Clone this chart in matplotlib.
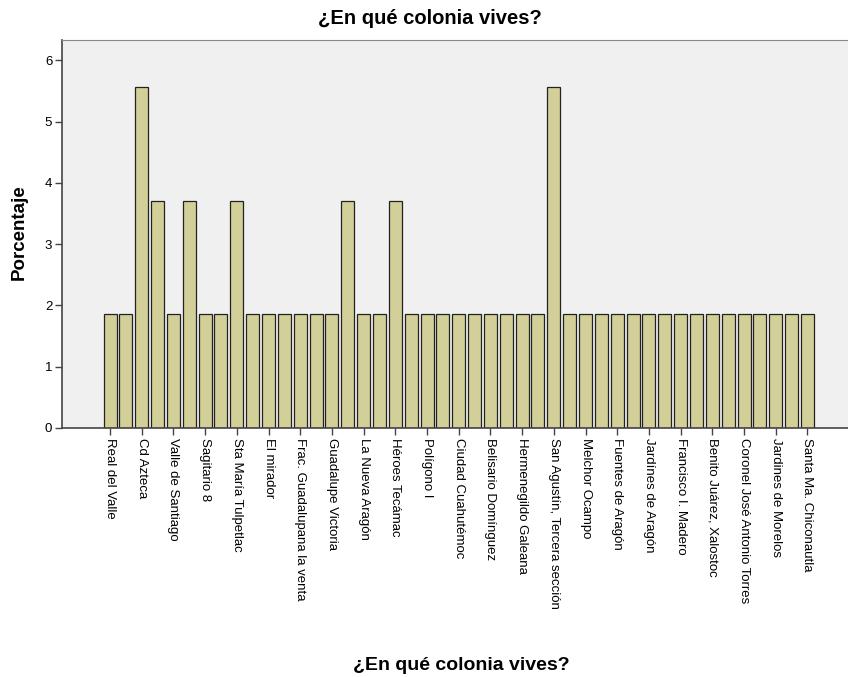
import matplotlib
matplotlib.use('Agg')
import matplotlib.pyplot as plt
import numpy as np

plt.rcParams['font.family'] = ['Liberation Sans', 'DejaVu Sans']

# counts per colonia (54 responses in total), 45 bars
conteos = [1, 1, 3, 2, 1, 2, 1, 1, 2, 1, 1, 1, 1, 1, 1, 2, 1, 1, 2, 1, 1, 1, 1,
           1, 1, 1, 1, 1, 3, 1, 1, 1, 1, 1, 1, 1, 1, 1, 1, 1, 1, 1, 1, 1, 1]
total = 54

# only every other bar is labelled in the original
etiquetas = ["Real del Valle", "Cd Azteca", "Valle de Santiago", "Sagitario 8",
             "Sta María Tulpetlac", "El mirador", "Frac. Guadalupana la venta",
             "Guadalupe Victoria", "La Nueva Aragón", "Héroes Tecámac", "Polígono I",
             "Ciudad Cuahutémoc", "Belisario Domínguez", "Hermenegildo Galeana",
             "San Agustín, Tercera sección", "Melchor Ocampo", "Fuentes de Aragón",
             "Jardínes de Aragón", "Francisco I. Madero", "Benito Juárez, Xalostoc",
             "Coronel José Antonio Torres", "Jardines de Morelos", "Santa Ma. Chiconautla"]

porcentaje = np.array(conteos) / total * 100
x = np.arange(len(conteos))

fig = plt.figure(figsize=(8.48, 6.77), dpi=100)
ax = fig.add_axes([62/848, 1 - 428/677, (848 - 62)/848, (428 - 40)/677])
ax.set_facecolor('#f0f0f0')

ax.bar(x, porcentaje, width=0.82, color='#d3cf98', edgecolor='#222222', linewidth=0.9, zorder=2)

ax.set_xlim(-3.03, 46.56)
ax.set_ylim(0, 6.33)
ax.set_yticks(range(0, 7))
ax.set_xticks(x[::2])
ax.set_xticklabels(etiquetas, rotation=270, ha='center', va='top', fontsize=9.5)
ax.tick_params(axis='y', labelsize=9.5, length=5, width=1, color='#444444', pad=2)
ax.tick_params(axis='x', length=5, width=1, color='#444444', pad=2)

for s in ['left', 'bottom']:
    ax.spines[s].set_color('#444444')
    ax.spines[s].set_linewidth(1.2)
ax.spines['top'].set_color('#888888')
ax.spines['right'].set_visible(False)

fig.text(430/848, 1 - 18/677, "¿En qué colonia vives?", ha='center', va='center',
         fontsize=14.5, fontweight='bold')
fig.text(461/848, 1 - 665/677, "¿En qué colonia vives?", ha='center', va='center',
         fontsize=14, fontweight='bold')
fig.text(19/848, 1 - 232/677, "Porcentaje", ha='center', va='center',
         rotation=90, fontsize=13.5, fontweight='bold')

fig.savefig('out.png', dpi=100)
